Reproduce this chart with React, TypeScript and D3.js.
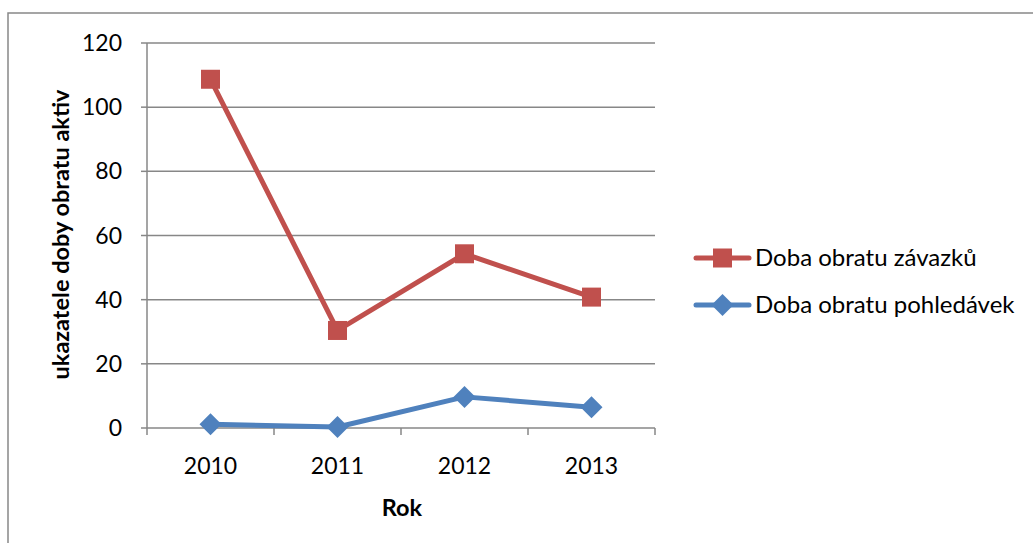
import React from "react";
import * as d3 from "d3";

const categories = ["2010", "2011", "2012", "2013"];
const zavazky = [108.7, 30.4, 54.3, 40.8];
const pohledavky = [1.2, 0.3, 9.7, 6.5];
const yTicks = [0, 20, 40, 60, 80, 100, 120];
const seriesNames = ["Doba obratu závazků", "Doba obratu pohledávek"];
const yTitle = "ukazatele doby obratu aktiv";
const xTitle = "Rok";

const W = 1033, H = 543;
const left = 147, right = 655, top = 43, bottom = 428;
const RED = "#C0504D", BLUE = "#4F81BD", GRID = "#878787";
const FONT = "Lato, Calibri, Carlito, sans-serif";

export default function App() {
  const x = d3.scaleBand<string>().domain(categories).range([left, right]).paddingInner(0).paddingOuter(0);
  const y = d3.scaleLinear().domain([0, 120]).range([bottom, top]);
  const cx = (c: string) => (x(c) as number) + x.bandwidth() / 2;
  const line = d3.line<number>().x((_, i) => cx(categories[i])).y((d) => y(d));
  const boundaries = [...categories.map((c) => x(c) as number), right];

  const square = (px: number, py: number, color: string, key: any) => (
    <rect key={key} x={px - 9.5} y={py - 9.5} width={19} height={19} fill={color} />
  );
  const diamond = (px: number, py: number, color: string, key: any) => (
    <path key={key} d={`M${px},${py - 11}L${px + 11},${py}L${px},${py + 11}L${px - 11},${py}Z`} fill={color} />
  );

  return (
    <svg width={W} height={H} style={{ position: "absolute", left: 0, top: 0, background: "#fff" }}>
      <rect x={8} y={13} width={1040} height={560} fill="#fff" stroke="#888" strokeWidth={1.5} />
      {yTicks.map((t) => (
        <g key={t}>
          {t > 0 && <line x1={left} x2={right} y1={y(t)} y2={y(t)} stroke={GRID} strokeWidth={1.5} />}
          <line x1={left - 6} x2={left} y1={y(t)} y2={y(t)} stroke={GRID} strokeWidth={1.5} />
          <text x={left - 25} y={y(t)} dy="0.35em" textAnchor="end" fontFamily={FONT} fontSize={23} fill="#000">{t}</text>
        </g>
      ))}
      <line x1={left} x2={left} y1={top} y2={bottom} stroke={GRID} strokeWidth={1.5} />
      <line x1={left} x2={right} y1={bottom} y2={bottom} stroke={GRID} strokeWidth={1.5} />
      {boundaries.map((b, i) => (
        <line key={i} x1={b} x2={b} y1={bottom} y2={bottom + 7} stroke={GRID} strokeWidth={1.5} />
      ))}
      {categories.map((c) => (
        <text key={c} x={cx(c)} y={466} dy="0.35em" textAnchor="middle" fontFamily={FONT} fontSize={23} fill="#000">{c}</text>
      ))}
      <text x={402} y={516} textAnchor="middle" fontFamily={FONT} fontSize={23.5} fontWeight="bold" fill="#000">{xTitle}</text>
      <text transform={`translate(61,${(top + bottom) / 2 - 1}) rotate(-90)`} dy="0.35em" textAnchor="middle" fontFamily={FONT} fontSize={23.5} fontWeight="bold" fill="#000">{yTitle}</text>

      <path d={line(pohledavky) as string} fill="none" stroke={BLUE} strokeWidth={5} strokeLinejoin="round" />
      {pohledavky.map((v, i) => diamond(cx(categories[i]), y(v), BLUE, i))}
      <path d={line(zavazky) as string} fill="none" stroke={RED} strokeWidth={5} strokeLinejoin="round" />
      {zavazky.map((v, i) => square(cx(categories[i]), y(v), RED, i))}

      <g>
        <line x1={696} x2={749} y1={258} y2={258} stroke={RED} strokeWidth={5} strokeLinecap="round" />
        {square(722.5, 258, RED, "ls")}
        <text x={755} y={258} dy="0.35em" fontFamily={FONT} fontSize={24} fill="#000">{seriesNames[0]}</text>
        <line x1={696} x2={749} y1={305} y2={305} stroke={BLUE} strokeWidth={5} strokeLinecap="round" />
        {diamond(722.5, 305, BLUE, "lb")}
        <text x={755} y={305} dy="0.35em" fontFamily={FONT} fontSize={24} fill="#000">{seriesNames[1]}</text>
      </g>
    </svg>
  );
}
